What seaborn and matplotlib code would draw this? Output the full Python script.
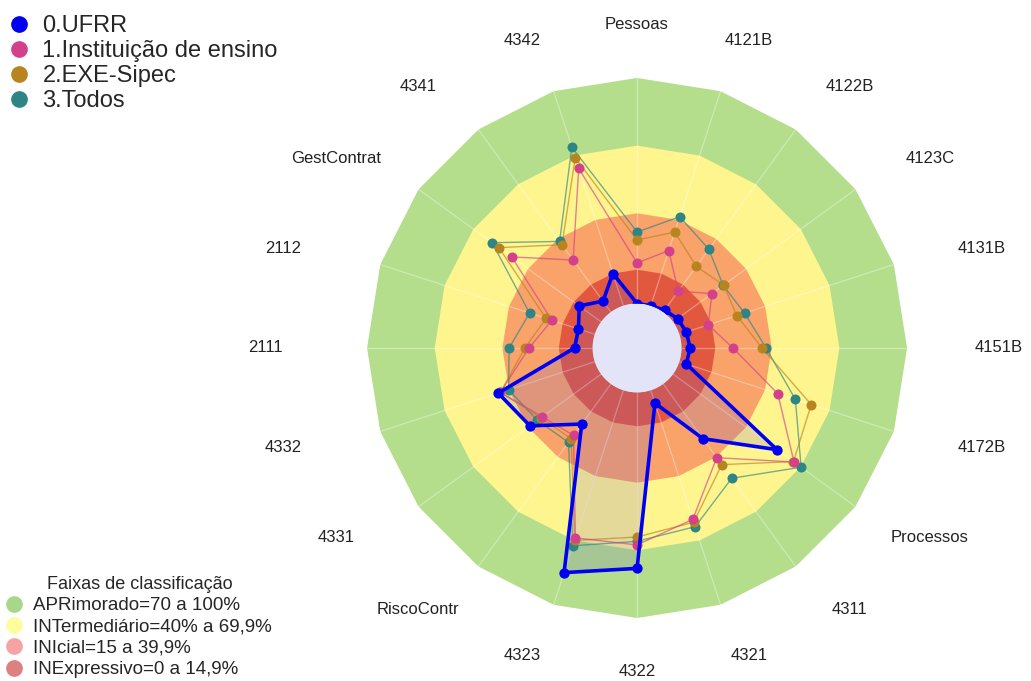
import numpy as np
import matplotlib
matplotlib.use("Agg")
import matplotlib.pyplot as plt
from matplotlib.lines import Line2D
import seaborn as sns

# eixos do radar, no sentido horario a partir do topo
eixos = ["Pessoas", "4121B", "4122B", "4123C", "4131B", "4151B", "4172B",
         "Processos", "4311", "4321", "4322", "4323", "RiscoContr", "4331",
         "4332", "2111", "2112", "GestContrat", "4341", "4342"]

ufrr = [0, 0, 1, 2.5, 3.3, 3.8, 3.3, 57, 30, 6, 78, 85, 22, 39, 45, 8, 7.6, 12, 6, 15]
instituicao = [18, 25.7, 11.4, 21.3, 13.5, 22.8, 45.9, 66.3, 40.4, 60.2,
               67.6, 68.8, 28.2, 32.2, 44, 28.2, 20, 49, 28.5, 64]
exe_sipec = [28.2, 34.3, 25, 27.7, 26.8, 35.7, 61.5, 66, 44.2, 61.5,
             64.1, 70, 30, 33, 44, 30, 22.7, 56, 36.9, 69]
todos = [31.7, 41.5, 34.4, 27.5, 30.4, 37.5, 54.1, 70.2, 51.7, 63.6,
         66, 72.5, 32, 34.9, 40.2, 37, 30.4, 59.7, 38.7, 73.9]

series = ["0.UFRR", "1.Instituição de ensino", "2.EXE-Sipec", "3.Todos"]
cores = ["#0000f0", "#d2418a", "#b8841f", "#2d8585"]

faixas = ["APRimorado=70 a 100%", "INTermediário=40% a 69,9%",
          "INIcial=15 a 39,9%", "INExpressivo=0 a 14,9%"]
limites = [100, 70, 40, 15]
cores_faixas = ["#b4de8b", "#fff58e", "#f9a26a", "#e2583f"]
cores_leg_faixas = ["#a8d78a", "#fdfd9e", "#f5a3a3", "#dd8080"]

sns.set_theme(style="white")
plt.rcParams["font.family"] = ["Liberation Sans", "DejaVu Sans"]

fig = plt.figure(figsize=(10.31, 6.81), dpi=100)
ax = fig.add_axes([0.356, 0.0925, 0.5238, 0.793], projection="polar")
ax.set_theta_zero_location("N")
ax.set_theta_direction(-1)

n = len(eixos)
theta = np.linspace(0, 2 * np.pi, n, endpoint=False)
theta_f = np.append(theta, 2 * np.pi)

# faixas de classificacao (poligonos)
for lim, cor in zip(limites, cores_faixas):
    ax.fill(theta_f, [lim] * (n + 1), color=cor, lw=0, zorder=1)
circ = np.linspace(0, 2 * np.pi, 200)
ax.fill(circ, np.zeros_like(circ), facecolor="#e4e4f8", edgecolor="none",
        lw=0, zorder=1, clip_on=False)

# series (ordem inversa: UFRR por cima)
valores = [ufrr, instituicao, exe_sipec, todos]
for i in [3, 2, 1]:
    v = np.append(valores[i], valores[i][0])
    sns.lineplot(x=theta_f, y=v, sort=False, estimator=None, color=cores[i],
                 lw=1, alpha=0.65, ax=ax, zorder=3)
    ax.scatter(theta, valores[i], s=52, color=cores[i], zorder=4, lw=0)

v0 = np.append(ufrr, ufrr[0])
ax.fill(theta_f, v0, color="#6a5acd", alpha=0.18, lw=0, zorder=2)
sns.lineplot(x=theta_f, y=v0, sort=False, estimator=None, color=cores[0],
             lw=2.6, ax=ax, zorder=5)
ax.scatter(theta, ufrr, s=55, color=cores[0], zorder=6, lw=0)

ax.set_ylim(0, 100)
ax.set_rorigin(-19.7)
ax.set_xticks(theta)
ax.set_xticklabels([])
ax.set_yticks([])
ax.set_xlabel("")
ax.set_ylabel("")
ax.set_axisbelow("line")
ax.xaxis.grid(True, color="white", alpha=0.35, lw=0.9)
ax.yaxis.grid(False)
for s in ax.spines.values():
    s.set_color("none")
    s.set_linewidth(0)
ax.set_facecolor("none")

# rotulos dos eixos numa elipse em volta do radar
for t, nome in zip(theta, eixos):
    sx = np.sin(t)
    rx = 362 if sx >= 0 else 372
    ax.text(0.5 + rx * sx / 540, 0.5 + 323 / 540 * np.cos(t), nome,
            transform=ax.transAxes, ha="center", va="center",
            fontsize=12, color="#222222")

h1 = [Line2D([], [], ls="", marker="o", ms=11, color=c) for c in cores]
leg1 = fig.legend(h1, series, loc="upper left", bbox_to_anchor=(0.0, 0.992),
                  frameon=False, fontsize=17, handlelength=0.8,
                  handletextpad=0.6, labelspacing=0.13, borderaxespad=0.2,
                  borderpad=0.2)

h2 = [Line2D([], [], ls="", marker="o", ms=11, color=c) for c in cores_leg_faixas]
leg2 = fig.legend(h2, faixas, loc="lower left", bbox_to_anchor=(0.005, 0.0),
                  frameon=False, fontsize=13.5, title="Faixas de classificação",
                  title_fontsize=13, handlelength=0.6, handletextpad=0.75,
                  labelspacing=0.22, borderaxespad=0.0, borderpad=0.15)

fig.savefig("out.png", dpi=100)
